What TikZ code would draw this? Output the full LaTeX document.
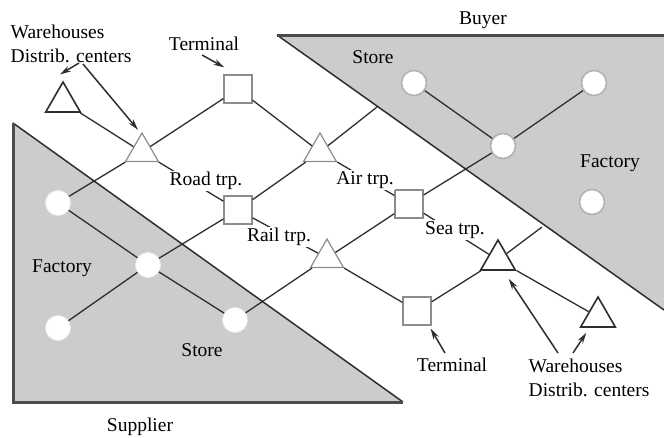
\documentclass[tikz,border=0pt]{standalone}
\usepackage{fontspec}
\setmainfont{Liberation Serif}
\usetikzlibrary{shapes.geometric,arrows.meta,calc}
\definecolor{regfill}{gray}{0.80}
\definecolor{nodeline}{gray}{0.55}
\definecolor{edgedark}{gray}{0.18}
\begin{document}
\begin{tikzpicture}[x=1pt,y=-1pt,
  lbl/.style={font=\fontsize{19.5}{24}\selectfont, inner sep=1.5pt},
  mask/.style={lbl, fill=white},
  conn/.style={line width=1.3pt, edgedark},
  arr/.style={-{Stealth[length=11pt,width=6pt]}, line width=1.5pt, edgedark},
  wtri/.style={regular polygon, regular polygon sides=3, draw=edgedark, line width=1.6pt, fill=white, minimum size=40pt, inner sep=0pt},
  gtri/.style={regular polygon, regular polygon sides=3, draw=nodeline, line width=1.2pt, fill=white, minimum size=38pt, inner sep=0pt},
  sqr/.style={rectangle, draw=nodeline, line width=1.2pt, fill=white, minimum size=28pt, inner sep=0pt},
  scirc/.style={circle, draw=gray!15, line width=0.8pt, fill=white, minimum size=25pt, inner sep=0pt},
  bcirc/.style={circle, draw=gray!60, line width=1.6pt, fill=white, minimum size=25pt, inner sep=0pt}]
\useasboundingbox (0,0) rectangle (664,437);

% regions
\fill[regfill] (13,123) -- (13,402) -- (403,402) -- cycle;
\draw[line width=1.5pt, edgedark] (13,123) -- (403,402);
\draw[line width=3pt, black!70, line cap=butt] (13,123) -- (13,402) -- (403,402);
\fill[regfill] (277,35) -- (664,35) -- (664,310) -- cycle;
\draw[line width=1.5pt, edgedark] (277,35) -- (664,310);
\draw[line width=3pt, black!70] (277,35) -- (664,35);

% nodes
\node[wtri] (wh1) at (63,102) {};
\node[gtri] (A) at (142,152) {};
\node[gtri] (B) at (320,152) {};
\node[gtri] (C) at (327,258) {};
\node[wtri] (D) at (498,260) {};
\node[wtri] (E) at (598,317) {};
\node[sqr] (tsq) at (238,89) {};
\node[sqr] (msq) at (238,210) {};
\node[sqr] (ssq) at (409,204) {};
\node[sqr] (bsq) at (417,311) {};
\node[scirc] (s1) at (58,203) {};
\node[scirc] (s2) at (148,265) {};
\node[scirc] (s3) at (58,328) {};
\node[scirc] (s4) at (235,320) {};
\node[bcirc] (b1) at (414,83) {};
\node[bcirc] (b2) at (594,83) {};
\node[bcirc] (b3) at (503,146) {};
\node[bcirc] (b4) at (592,202) {};
\coordinate (h1) at (377,107);
\coordinate (h2) at (542,227);

% connectors
\draw[conn] (wh1) -- (A) -- (msq) -- (C) -- (bsq);
\draw[conn] (tsq) -- (B) -- (ssq) -- (D) -- (E);
\draw[conn] (s1) -- (s2) -- (s4);
\draw[conn] (s1) -- (A) -- (tsq);
\draw[conn] (s3) -- (s2) -- (msq) -- (B) -- (h1);
\draw[conn] (s4) -- (C) -- (ssq) -- (b3) -- (b2);
\draw[conn] (bsq) -- (D) -- (h2);
\draw[conn] (b1) -- (b3);

% labels
\node[lbl, anchor=west, align=left] (whl1) at (9,44) {Warehouses\\Distrib. centers};
\node[lbl] (terml1) at (204,44) {Terminal};
\node[lbl] (buyer) at (483,20) {Buyer};
\node[lbl] (store1) at (373,57) {Store};
\node[lbl] (fact1) at (610,163) {Factory};
\node[mask] (road) at (206,181) {Road trp.};
\node[mask] (air) at (365,180) {Air trp.};
\node[mask] (rail) at (279,237) {Rail trp.};
\node[mask] (sea) at (455,230) {Sea trp.};
\node[lbl] (fact2) at (62,268) {Factory};
\node[lbl] (store2) at (202,350) {Store};
\node[lbl] (supp) at (140,427) {Supplier};
\node[lbl] (terml2) at (452,365) {Terminal};
\node[lbl, anchor=west, align=left] (whl2) at (527,378) {Warehouses\\Distrib. centers};

% arrows
\coordinate (a1s) at (79,63);
\coordinate (a2s) at (83,64);
\coordinate (a3s) at (202,55);
\coordinate (a4s) at (445,353);
\coordinate (a5s) at (558,353);
\coordinate (a6s) at (573,353);
\draw[arr] (a1s) -- ($(wh1.corner 1)+(-3,-6)$);
\draw[arr] (a2s) -- ($(A.corner 1)+(-4,-2)$);
\draw[arr] (a3s) -- ($(tsq.north west)+(1,-7)$);
\draw[arr] (a4s) -- ($(bsq.south east)+(-1,3)$);
\draw[arr] (a5s) -- ($(D.corner 3)+(-8,8)$);
\draw[arr] (a6s) -- ($(E.corner 2)+(7,5)$);
\end{tikzpicture}
\end{document}
